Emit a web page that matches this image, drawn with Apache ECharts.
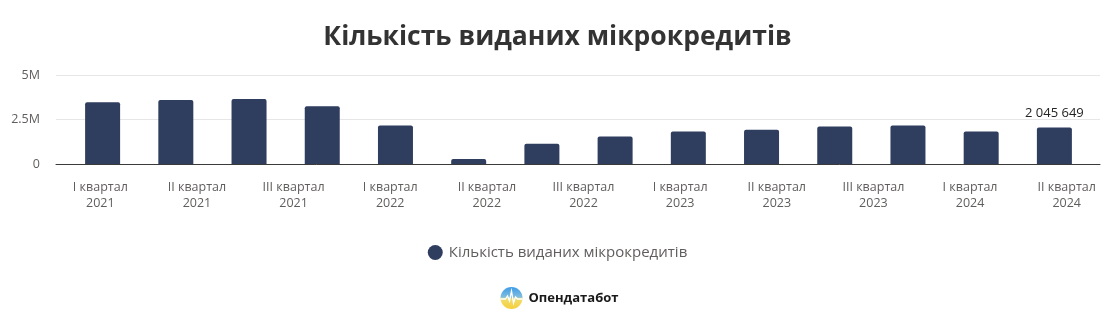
<!DOCTYPE html>
<html>
<head>
<meta charset="utf-8">
<script src="https://cdn.jsdelivr.net/npm/echarts@6/dist/echarts.min.js"></script>
<style>
html,body{margin:0;padding:0;background:#fff;}
#chart{width:1115px;height:325px;}
</style>
</head>
<body>
<div id="chart"></div>
<script>
// ---- data ----
const title = 'Кількість виданих мікрокредитів';
const seriesName = 'Кількість виданих мікрокредитів';
const quarters = ['I квартал 2021','II квартал 2021','III квартал 2021','IV квартал 2021',
  'I квартал 2022','II квартал 2022','III квартал 2022','IV квартал 2022',
  'I квартал 2023','II квартал 2023','III квартал 2023','IV квартал 2023',
  'I квартал 2024','II квартал 2024'];
const values = [3470000, 3600000, 3650000, 3240000, 2160000, 280000, 1140000,
  1550000, 1820000, 1930000, 2100000, 2160000, 1820000, 2045649];
const tickLabels = ['I квартал 2021','II квартал 2021','III квартал 2021',
  'I квартал 2022','II квартал 2022','III квартал 2022',
  'I квартал 2023','II квартал 2023','III квартал 2023',
  'I квартал 2024','II квартал 2024'];
const yTicks = [0, 2500000, 5000000];
const yTickLabels = ['0', '2.5M', '5M'];
const labelledIndex = values.length - 1;
const brand = 'Опендатабот';

// ---- chart ----
const FONT = '"Open Sans", "Noto Sans", sans-serif';
const BAR = '#2f3d5f';
const fmtSpace = v => String(Math.round(v)).replace(/\B(?=(\d{3})+(?!\d))/g, ' ');

const chart = echarts.init(document.getElementById('chart'), null, {renderer: 'canvas'});
const gTop = 75, gBottom = 161;
chart.setOption({
  animation: false,
  backgroundColor: '#fff',
  textStyle: {fontFamily: FONT},
  title: {
    text: title, left: 'center', top: 19,
    textStyle: {fontFamily: FONT, fontSize: 26.5, fontWeight: 'bold', color: '#333333'}
  },
  legend: {
    data: [seriesName], left: 'center', top: 240,
    icon: 'circle', itemWidth: 15, itemHeight: 15, itemGap: 10,
    textStyle: {fontFamily: FONT, fontSize: 15, color: '#605E5C', padding: [0, 0, 0, 1]}
  },
  grid: [
    {left: 66, right: 24, top: gTop, bottom: gBottom},
    {left: 56, right: 15, top: gTop, bottom: gBottom},
    {left: 52, right: -6, top: gTop, bottom: gBottom}
  ],
  xAxis: [
    {gridIndex: 0, type: 'category', data: quarters, show: false},
    {gridIndex: 1, type: 'value', min: 0, max: 1,
     axisLine: {show: true, lineStyle: {color: '#3a3a3a', width: 1}},
     axisTick: {show: false}, axisLabel: {show: false}, splitLine: {show: false}},
    {gridIndex: 2, type: 'category', data: tickLabels,
     axisLine: {show: false}, axisTick: {show: false}, splitLine: {show: false},
     axisLabel: {interval: 0, margin: 15, fontFamily: FONT, fontSize: 12.5, lineHeight: 16,
       color: '#605E5C', formatter: s => s.replace(/ (\d{4})$/, '\n$1')}}
  ],
  yAxis: [
    {gridIndex: 0, type: 'value', min: 0, max: 5000000, show: false},
    {gridIndex: 1, type: 'value', min: yTicks[0], max: yTicks[yTicks.length - 1],
     interval: yTicks[1] - yTicks[0],
     axisLine: {show: false}, axisTick: {show: false},
     axisLabel: {margin: 16, fontFamily: FONT, fontSize: 12.5, color: '#605E5C',
       formatter: v => yTickLabels[yTicks.indexOf(v)]},
     splitLine: {show: true, lineStyle: {color: '#e6e6e6', width: 1}}},
    {gridIndex: 2, type: 'value', min: 0, max: 1, show: false}
  ],
  series: [{
    name: seriesName, type: 'bar', xAxisIndex: 0, yAxisIndex: 0,
    data: values.map((v, i) => i === labelledIndex ? {
      value: v,
      label: {show: true, position: 'top', distance: 8, fontFamily: FONT, fontSize: 13,
        color: '#252423', formatter: p => fmtSpace(p.value)}
    } : v),
    barWidth: 35,
    itemStyle: {color: BAR, borderRadius: [2, 2, 0, 0]}
  }],
  graphic: [{
    type: 'group', left: 498, top: 287,
    children: [
      {type: 'circle', shape: {cx: 11, cy: 11, r: 11},
       style: {fill: new echarts.graphic.LinearGradient(0, 0, 0, 1, [
         {offset: 0, color: '#3d9be6'}, {offset: 0.45, color: '#7fbde0'},
         {offset: 0.55, color: '#f1dc6a'}, {offset: 1, color: '#f6cf3c'}])}},
      {type: 'polyline', shape: {points: [[0, 12], [5, 12], [7, 9], [9, 14], [11, 4], [13, 16], [15, 10], [17, 12], [22, 12]]},
       style: {stroke: '#ffffff', lineWidth: 1.3, fill: null}},
      {type: 'text', x: 28, y: 11,
       style: {text: brand, fontFamily: FONT, fontSize: 13, fontWeight: 'bold', fill: '#1a1a1a',
         textVerticalAlign: 'middle', verticalAlign: 'middle'}}
    ]
  }]
});
</script>
</body>
</html>
